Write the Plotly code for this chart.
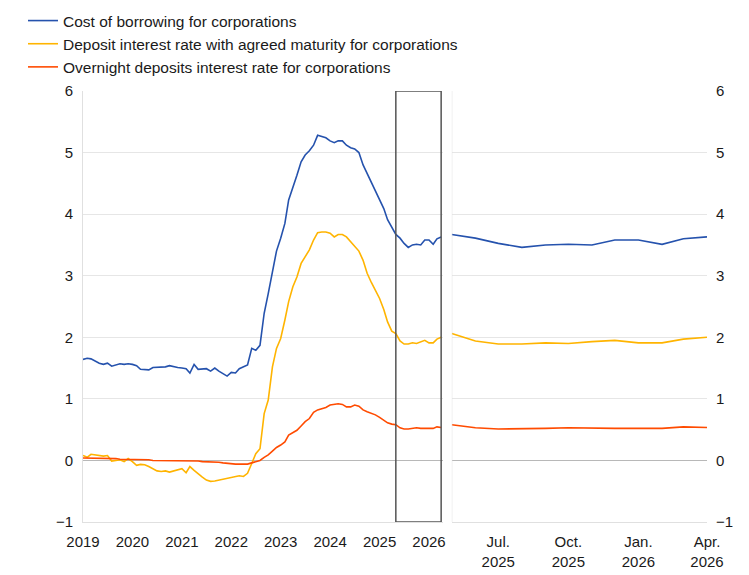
import plotly.graph_objects as go
import pandas as pd

dates = pd.date_range("2019-01-01", "2026-04-01", freq="MS")

cost_borrowing = [
    1.64, 1.66, 1.65, 1.61, 1.58, 1.56, 1.58, 1.53, 1.55, 1.57, 1.56, 1.57,
    1.56, 1.54, 1.48, 1.47, 1.47, 1.51, 1.51, 1.51, 1.52, 1.54, 1.52, 1.51,
    1.50, 1.49, 1.42, 1.56, 1.48, 1.48, 1.49, 1.45, 1.50, 1.45, 1.41, 1.37,
    1.43, 1.42, 1.49, 1.52, 1.55, 1.82, 1.79, 1.87, 2.39, 2.71, 3.09, 3.40,
    3.61, 3.85, 4.23, 4.42, 4.63, 4.85, 4.96, 5.03, 5.12, 5.28, 5.26, 5.24,
    5.19, 5.16, 5.19, 5.19, 5.12, 5.08, 5.06, 5.00, 4.80, 4.66, 4.52, 4.36,
    4.24, 4.09, 3.91, 3.78, 3.67, 3.61, 3.525, 3.46, 3.50, 3.51, 3.50, 3.58,
    3.58, 3.51, 3.60, 3.63,
]

deposit_agreed = [
    0.08, 0.05, 0.10, 0.09, 0.07, 0.07, 0.08, -0.01, 0.00, 0.01, -0.02, 0.03,
    -0.02, -0.08, -0.065, -0.07, -0.10, -0.14, -0.17, -0.18, -0.17, -0.19, -0.17, -0.15,
    -0.135, -0.20, -0.10, -0.16, -0.22, -0.27, -0.32, -0.34, -0.335, -0.32, -0.31, -0.29,
    -0.28, -0.265, -0.25, -0.26, -0.21, -0.05, 0.11, 0.19, 0.76, 0.98, 1.52, 1.82,
    1.98, 2.28, 2.58, 2.82, 2.98, 3.20, 3.31, 3.42, 3.58, 3.70, 3.71, 3.71,
    3.69, 3.63, 3.67, 3.67, 3.63, 3.55, 3.48, 3.40, 3.25, 3.04, 2.89, 2.77,
    2.63, 2.45, 2.25, 2.10, 2.06, 1.94, 1.89, 1.89, 1.91, 1.90, 1.93, 1.95,
    1.91, 1.91, 1.97, 2.00,
]

overnight = [
    0.04, 0.04, 0.04, 0.04, 0.04, 0.03, 0.03, 0.03, 0.03, 0.02, 0.02, 0.02,
    0.01, 0.01, 0.01, 0.01, 0.01, 0.00, 0.00, 0.00, 0.00, 0.00, 0.00, 0.00,
    -0.01, -0.01, -0.01, -0.01, -0.01, -0.02, -0.02, -0.02, -0.03, -0.03, -0.04, -0.05,
    -0.05, -0.06, -0.06, -0.06, -0.06, -0.04, -0.02, 0.00, 0.05, 0.09, 0.15, 0.21,
    0.25, 0.30, 0.41, 0.45, 0.49, 0.56, 0.63, 0.68, 0.78, 0.82, 0.84, 0.86,
    0.90, 0.91, 0.92, 0.91, 0.87, 0.87, 0.90, 0.88, 0.82, 0.79, 0.77, 0.74,
    0.70, 0.66, 0.61, 0.59, 0.58, 0.53, 0.51, 0.51, 0.52, 0.53, 0.52, 0.52,
    0.52, 0.52, 0.545, 0.535,
]

series_names = [
    "Cost of borrowing for corporations",
    "Deposit interest rate with agreed maturity for corporations",
    "Overnight deposits interest rate for corporations",
]
series_colors = ["#2552ad", "#ffb400", "#ff4b00"]

year_ticks = [f"{y}-01-01" for y in range(2019, 2027)]
year_labels = [str(y) for y in range(2019, 2027)]
zoom_ticks = ["2025-07-01", "2025-10-01", "2026-01-01", "2026-04-01"]
zoom_labels = ["Jul.<br>2025", "Oct.<br>2025", "Jan.<br>2026", "Apr.<br>2026"]
y_ticks = [-1, 0, 1, 2, 3, 4, 5, 6]

n_zoom = 12
zoom_dates = dates[-n_zoom:]

FONT = "Liberation Sans, Arial, sans-serif"
axis_font = dict(family=FONT, size=15, color="#1a1a1a")

fig = go.Figure()
all_series = [cost_borrowing, deposit_agreed, overnight]
for name, color, vals in zip(series_names, series_colors, all_series):
    fig.add_trace(go.Scatter(x=dates, y=vals, mode="lines", name=name,
                             line=dict(color=color, width=1.6),
                             xaxis="x", yaxis="y"))
for name, color, vals in zip(series_names, series_colors, all_series):
    fig.add_trace(go.Scatter(x=zoom_dates, y=vals[-n_zoom:], mode="lines", name=name,
                             line=dict(color=color, width=1.6), showlegend=False,
                             xaxis="x2", yaxis="y2"))

# highlight box of the zoomed period
fig.add_shape(type="rect", xref="x", yref="y",
              x0=zoom_dates[0], x1=zoom_dates[-1], y0=-1, y1=6,
              line=dict(color="#555555", width=1.5), fillcolor="rgba(0,0,0,0)")
# left border of the zoom panel
fig.add_shape(type="line", xref="x2", yref="y2", x0=zoom_dates[0], x1=zoom_dates[0],
              y0=-1, y1=6, line=dict(color="#e0e0e0", width=1))

common_y = dict(range=[-1, 6], tickvals=y_ticks, showgrid=True, gridcolor="#e6e6e6",
                gridwidth=1, zeroline=True, zerolinecolor="#b8b8b8", zerolinewidth=1.2,
                tickfont=axis_font, ticks="", automargin=False)

fig.update_layout(
    width=749, height=575,
    margin=dict(l=83, r=42, t=91, b=53, autoexpand=False),
    paper_bgcolor="white", plot_bgcolor="white",
    font=axis_font,
    showlegend=True,
    legend=dict(x=23 / 749, y=1 - 4 / 575, xref="container", yref="container",
                xanchor="left", yanchor="top", orientation="v",
                font=dict(family=FONT, size=15.5, color="#1a1a1a"),
                bgcolor="rgba(0,0,0,0)", itemwidth=30),
    xaxis=dict(domain=[0, 0.577], range=["2019-01-01", "2026-04-15"],
               tickvals=year_ticks, ticktext=year_labels, showgrid=False,
               showline=True, linecolor="#e0e0e0", linewidth=1, ticks="",
               tickfont=axis_font, automargin=False, ticklabelstandoff=6),
    yaxis=dict(anchor="x", side="left", showline=True, linecolor="#e0e0e0",
               linewidth=1, ticklabelstandoff=6, **common_y),
    xaxis2=dict(domain=[0.591, 1.0], range=[zoom_dates[0], zoom_dates[-1]],
                tickvals=zoom_ticks, ticktext=zoom_labels, showgrid=False,
                showline=True, linecolor="#e0e0e0", linewidth=1, ticks="",
                tickfont=axis_font, anchor="y2", automargin=False,
                ticklabelstandoff=6),
    yaxis2=dict(anchor="x2", side="right", showline=False,
                ticklabelstandoff=8, **common_y),
)

fig.write_html("out.html", config={"displayModeBar": False},
               post_script="document.body.style.margin='0';document.body.style.padding='0';")
